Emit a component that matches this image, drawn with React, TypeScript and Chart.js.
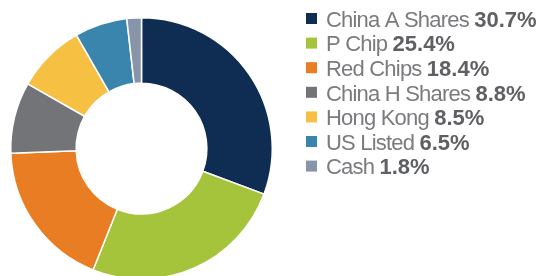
import React, { useEffect, useRef } from "react";
import { Chart, registerables } from "chart.js";

Chart.register(...registerables);

const categories = ["China A Shares", "P Chip", "Red Chips", "China H Shares", "Hong Kong", "US Listed", "Cash"];
const values = [30.7, 25.4, 18.4, 8.8, 8.5, 6.5, 1.8];
const valueLabels = ["30.7%", "25.4%", "18.4%", "8.8%", "8.5%", "6.5%", "1.8%"];
const colors = ["#0f2d52", "#a5c33b", "#e87d24", "#737477", "#f6c042", "#3a85ad", "#8895a8"];

const legendPlugin = {
  id: "customLegend",
  afterDraw(chart: any) {
    const ctx = chart.ctx as CanvasRenderingContext2D;
    ctx.save();
    const x0 = 306;
    const firstBaseline = 26.8;
    const step = 24.6;
    categories.forEach((cat, i) => {
      const base = firstBaseline + i * step;
      ctx.fillStyle = colors[i];
      ctx.fillRect(x0, base - 13.8, 11, 11);
      ctx.textBaseline = "alphabetic";
      ctx.textAlign = "left";
      (ctx as any).letterSpacing = "-0.8px";
      ctx.font = "22px 'Liberation Sans', Arial, sans-serif";
      ctx.fillStyle = "#7a7b7e";
      ctx.fillText(cat, 326, base);
      const w = ctx.measureText(cat + " ").width;
      (ctx as any).letterSpacing = "0px";
      ctx.font = "bold 22px 'Liberation Sans', Arial, sans-serif";
      ctx.fillStyle = "#5f6063";
      ctx.fillText(valueLabels[i], 326 + w, base);
    });
    ctx.restore();
  },
};

export default function App() {
  const ref = useRef<HTMLCanvasElement>(null);
  useEffect(() => {
    if (!ref.current) return;
    const chart = new Chart(ref.current, {
      type: "doughnut",
      data: {
        labels: categories,
        datasets: [
          {
            data: values,
            backgroundColor: colors,
            borderColor: "#ffffff",
            borderWidth: 1.5,
          },
        ],
      },
      options: {
        responsive: false,
        animation: false,
        cutout: "50%",
        layout: { padding: { left: 10, top: 17, right: 267, bottom: 20 } },
        plugins: { legend: { display: false }, tooltip: { enabled: false } },
      },
      plugins: [legendPlugin],
    });
    return () => chart.destroy();
  }, []);
  return (
    <div style={{ position: "fixed", left: 0, top: 0, width: 540, height: 276, overflow: "hidden", background: "#fff" }}>
      <canvas ref={ref} width={540} height={300} style={{ width: 540, height: 300, display: "block" }} />
    </div>
  );
}
